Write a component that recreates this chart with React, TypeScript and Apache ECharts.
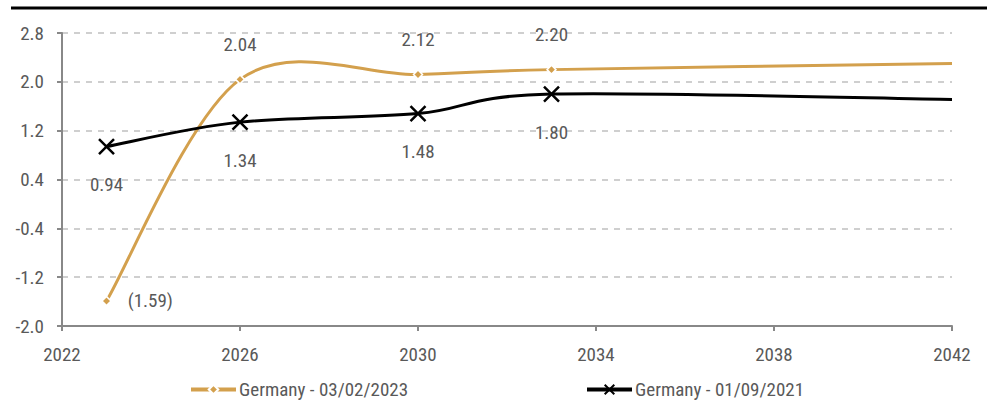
import React, { useEffect, useRef } from "react";
import * as echarts from "echarts";

const years = [2023, 2026, 2030, 2033, 2042];
const germany2023 = [-1.59, 2.04, 2.12, 2.2, 2.3];
const germany2021 = [0.94, 1.34, 1.48, 1.8, 1.71];
const labelledYears = [2023, 2026, 2030, 2033];
const seriesNames = ["Germany - 03/02/2023", "Germany - 01/09/2021"];

const FONT = "'Roboto Condensed', 'Liberation Sans Narrow', sans-serif";
const GOLD = "#D3A04D";
const TEXT = "#595959";
const FS = 19;

const fmt = (v: number) => (v < 0 ? `(${Math.abs(v).toFixed(2)})` : v.toFixed(2));

// Catmull-Rom style smoothing (as spreadsheet charts do), computed in pixel space
function smoothPath(pts: number[][]) {
  let d = `M${pts[0][0]},${pts[0][1]}`;
  for (let i = 0; i < pts.length - 1; i++) {
    const p0 = pts[Math.max(i - 1, 0)];
    const p1 = pts[i];
    const p2 = pts[i + 1];
    const p3 = pts[Math.min(i + 2, pts.length - 1)];
    const c1x = p1[0] + (p2[0] - p0[0]) / 6;
    const c1y = p1[1] + (p2[1] - p0[1]) / 6;
    const c2x = p2[0] - (p3[0] - p1[0]) / 6;
    const c2y = p2[1] - (p3[1] - p1[1]) / 6;
    d += ` C${c1x},${c1y} ${c2x},${c2y} ${p2[0]},${p2[1]}`;
  }
  return d;
}

const curveSeries = (values: number[], color: string, z: number) => ({
  type: "custom",
  xAxisIndex: 1,
  silent: true,
  z,
  data: [[years[0], values[0]]],
  renderItem: (params: any, api: any) => {
    const pts = years.map((y, i) => api.coord([y, values[i]]));
    return {
      type: "path",
      shape: { pathData: smoothPath(pts) },
      style: { stroke: color, lineWidth: 3, fill: "none" },
    };
  },
});

const legendBase = {
  bottom: 4,
  itemWidth: 45,
  itemHeight: 12,
  itemGap: 4,
  textStyle: { color: TEXT, fontSize: FS, fontFamily: FONT, padding: [0, 0, 0, -2] },
};

export default function App() {
  const ref = useRef<HTMLDivElement>(null);
  useEffect(() => {
    document.body.style.margin = "0";
    if (!ref.current) return;
    const chart = echarts.init(ref.current, null, { renderer: "svg" });
    const goldData = years.map((y, i) => {
      const v = germany2023[i];
      const show = labelledYears.includes(y);
      return {
        value: [y, v],
        symbolSize: show ? 9 : 0,
        label: {
          show,
          position: v < 0 ? "right" : "top",
          distance: v < 0 ? 16 : 20,
        },
      };
    });
    const blackData = years.map((y, i) => {
      const show = labelledYears.includes(y);
      return {
        value: [y, germany2021[i]],
        symbolSize: show ? 15 : 0,
        label: { show, position: "bottom", distance: 20 },
      };
    });
    chart.setOption({
      animation: false,
      textStyle: { fontFamily: FONT },
      grid: { left: 62, right: 45, top: 33, bottom: 82 },
      graphic: [
        {
          type: "line",
          shape: { x1: 11, y1: 8, x2: 987, y2: 8 },
          style: { stroke: "#000", lineWidth: 3 },
        },
      ],
      legend: [
        {
          ...legendBase,
          left: 184,
          data: [{ name: seriesNames[0], lineStyle: { color: GOLD, width: 4, opacity: 1 } }],
        },
        {
          ...legendBase,
          left: 580,
          data: [{ name: seriesNames[1], lineStyle: { color: "#000", width: 4, opacity: 1 } }],
        },
      ],
      xAxis: [
        {
          type: "value",
          min: 2022,
          max: 2042,
          interval: 4,
          position: "bottom",
          axisLine: { show: false },
          axisTick: { show: false },
          splitLine: { show: false },
          axisLabel: { color: TEXT, fontSize: FS, margin: 19, fontFamily: FONT, formatter: (v: number) => String(v) },
        },
        {
          type: "value",
          min: 2022,
          max: 2042,
          interval: 4,
          position: "bottom",
          axisLine: { show: true, onZero: true, lineStyle: { color: "#888", width: 2 } },
          axisTick: { show: true, length: 5, lineStyle: { color: "#888", width: 2 } },
          splitLine: { show: false },
          axisLabel: { show: false },
        },
      ],
      yAxis: {
        type: "value",
        min: -2.0,
        max: 2.8,
        interval: 0.8,
        axisLine: { show: true, lineStyle: { color: "#888", width: 2 } },
        axisTick: { show: true, length: 5, lineStyle: { color: "#888", width: 2 } },
        axisLabel: {
          color: TEXT,
          fontSize: FS,
          margin: 18,
          fontFamily: FONT,
          formatter: (v: number) => v.toFixed(1),
        },
        splitLine: { show: true, lineStyle: { color: "#C0C0C0", type: [6, 6], width: 1.5 } },
      },
      series: [
        curveSeries(germany2023, GOLD, 2),
        curveSeries(germany2021, "#000", 3),
        {
          name: seriesNames[0],
          type: "line",
          xAxisIndex: 1,
          data: goldData,
          symbol: "diamond",
          lineStyle: { opacity: 0 },
          itemStyle: { color: GOLD, borderColor: "#fff", borderWidth: 1.5 },
          label: { color: TEXT, fontSize: FS, fontFamily: FONT, formatter: (p: any) => fmt(p.value[1]) },
          z: 4,
        },
        {
          name: seriesNames[1],
          type: "line",
          xAxisIndex: 1,
          data: blackData,
          symbol: "path://M0,0L10,10M10,0L0,10",
          lineStyle: { opacity: 0 },
          itemStyle: { color: "#000", borderColor: "#000", borderWidth: 2.5 },
          label: { color: TEXT, fontSize: FS, fontFamily: FONT, formatter: (p: any) => fmt(p.value[1]) },
          z: 5,
        },
      ],
    });
    return () => chart.dispose();
  }, []);
  return <div ref={ref} style={{ width: 997, height: 408 }} />;
}
